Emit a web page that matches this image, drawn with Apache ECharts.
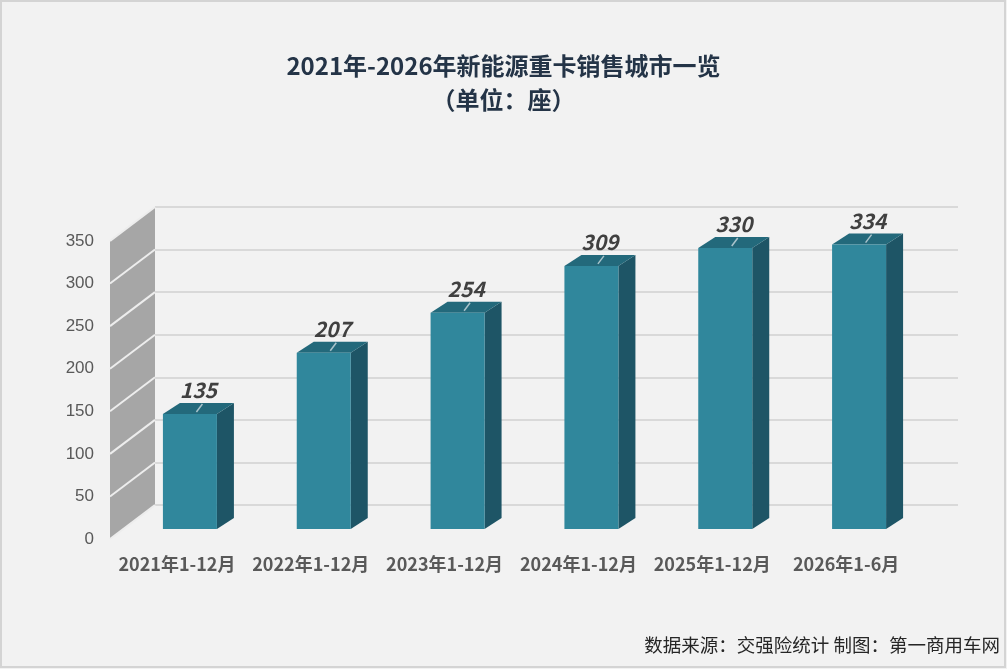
<!DOCTYPE html>
<html>

<head>
    <meta charset="utf-8">
</head>

<body style="margin: 0; background: #f2f2f2">
    <div id="container" style="width: 1007px; height: 669px"></div>
    <script type="text/javascript" src="https://cdn.jsdelivr.net/npm/echarts@6/dist/echarts.min.js"></script>
    <script>
        var categories = ['2021年1-12月', '2022年1-12月', '2023年1-12月', '2024年1-12月', '2025年1-12月', '2026年1-6月']
        var values = [135, 207, 254, 309, 330, 334]
        var yTicks = [0, 50, 100, 150, 200, 250, 300, 350]

        var dom = document.getElementById("container");
        var myChart = echarts.init(dom);

        // offsets of the fake 3d: back wall, bar front face, bar depth
        var WALL_DX = 45, WALL_DY = -34
        var BAR_DX = 13, BAR_DY = -10
        var DEPTH_DX = 17, DEPTH_DY = -11
        var BAR_W = 54
        var font = 'Noto Sans CJK SC'

        function renderWall(params, api) {
            var cs = params.coordSys
            var x = cs.x
            var yTop = api.coord([0, yTicks[yTicks.length - 1]])[1]
            var yBot = api.coord([0, 0])[1]
            var children = [{
                type: 'polygon',
                shape: {
                    points: [[x, yBot], [x, yTop], [x + WALL_DX, yTop + WALL_DY], [x + WALL_DX, yBot + WALL_DY]]
                },
                style: { fill: '#a6a6a6' }
            }]
            yTicks.forEach(function (t) {
                var y = api.coord([0, t])[1]
                children.push({
                    type: 'line',
                    shape: { x1: x, y1: y, x2: x + WALL_DX, y2: y + WALL_DY },
                    style: { stroke: '#ededed', lineWidth: 2 }
                })
            })
            return { type: 'group', children: children }
        }

        function renderBar(params, api) {
            var top = api.coord([api.value(0), api.value(1)])
            var bot = api.coord([api.value(0), 0])
            var cx = top[0] + BAR_DX
            var x0 = cx - BAR_W / 2, x1 = cx + BAR_W / 2
            var yt = top[1] + BAR_DY, yb = bot[1] + BAR_DY
            var lx = cx + DEPTH_DX / 2
            return {
                type: 'group',
                children: [{
                    type: 'polygon',
                    shape: { points: [[x1, yt], [x1 + DEPTH_DX, yt + DEPTH_DY], [x1 + DEPTH_DX, yb + DEPTH_DY], [x1, yb]] },
                    style: { fill: '#1e5566' }
                }, {
                    type: 'polygon',
                    shape: { points: [[x0, yt], [x0 + DEPTH_DX, yt + DEPTH_DY], [x1 + DEPTH_DX, yt + DEPTH_DY], [x1, yt]] },
                    style: { fill: '#23697b' }
                }, {
                    type: 'rect',
                    shape: { x: x0, y: yt, width: BAR_W, height: yb - yt },
                    style: { fill: '#30879c' }
                }, {
                    type: 'line',
                    shape: { x1: lx + 4, y1: yt + DEPTH_DY + 1, x2: lx - 2, y2: yt - 2 },
                    style: { stroke: '#a9c3cb', lineWidth: 1.5 }
                }, {
                    type: 'text',
                    style: {
                        text: String(api.value(1)),
                        x: lx,
                        y: yt + DEPTH_DY - 13,
                        textAlign: 'center',
                        textVerticalAlign: 'middle',
                        fontSize: 21,
                        fontWeight: 'bold',
                        fontStyle: 'italic',
                        fontFamily: font,
                        fill: '#404040'
                    }
                }]
            }
        }

        var option = {
            backgroundColor: '#f2f2f2',
            animation: false,
            title: {
                text: '2021年-2026年新能源重卡销售城市一览\n（单位：座）',
                left: 'center',
                top: 44,
                textStyle: {
                    fontFamily: font,
                    fontSize: 24,
                    fontWeight: 'bold',
                    color: '#243447',
                    lineHeight: 34
                }
            },
            graphic: [{
                type: 'rect',
                shape: { x: 1, y: 1, width: 1004, height: 666 },
                style: { fill: 'none', stroke: '#d4d4d4', lineWidth: 2 }
            }, {
                type: 'text',
                right: 7,
                top: 636,
                style: {
                    text: '数据来源：交强险统计 制图：第一商用车网',
                    fontFamily: font,
                    fontSize: 18.5,
                    fill: '#262626'
                }
            }],
            grid: [
                { left: 110, right: 94, top: 241, bottom: 130 },
                { left: 155, right: 49, top: 207, bottom: 164 }
            ],
            xAxis: [{
                type: 'category',
                gridIndex: 0,
                data: categories,
                axisLine: { show: false },
                axisTick: { show: false },
                axisLabel: {
                    interval: 0,
                    margin: 16,
                    fontFamily: font,
                    fontSize: 18,
                    fontWeight: 'bold',
                    color: '#595959'
                }
            }, {
                type: 'category',
                gridIndex: 1,
                data: categories,
                show: false
            }],
            yAxis: [{
                type: 'value',
                gridIndex: 0,
                min: 0,
                max: 350,
                interval: 50,
                splitLine: { show: false },
                axisLabel: {
                    margin: 16,
                    fontFamily: 'Liberation Sans',
                    fontSize: 17,
                    color: '#595959'
                }
            }, {
                type: 'value',
                gridIndex: 1,
                min: 0,
                max: 350,
                interval: 50,
                axisLabel: { show: false },
                axisLine: { show: false },
                axisTick: { show: false },
                splitLine: { lineStyle: { color: '#d9d9d9', width: 2 } }
            }],
            series: [{
                type: 'custom',
                xAxisIndex: 0,
                yAxisIndex: 0,
                renderItem: renderWall,
                data: [[0, 0]],
                silent: true
            }, {
                type: 'custom',
                xAxisIndex: 0,
                yAxisIndex: 0,
                renderItem: renderBar,
                data: values.map(function (v, i) { return [i, v] })
            }]
        };
        myChart.setOption(option);
    </script>

</body>

</html>
